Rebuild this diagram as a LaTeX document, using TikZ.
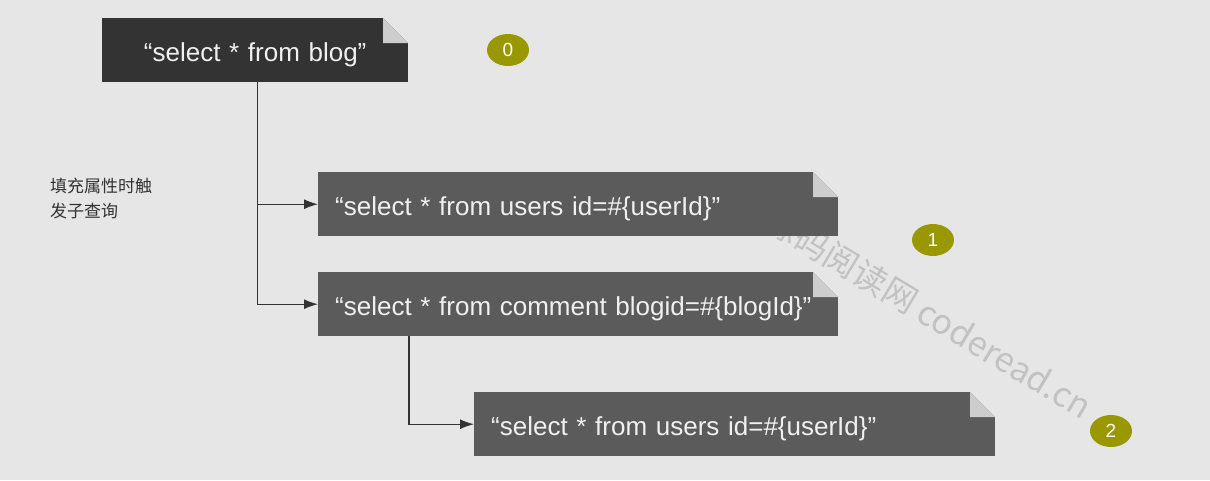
\documentclass[tikz,border=0pt]{standalone}
\usepackage{fontspec}
\setmainfont{Liberation Sans}
\newfontfamily\cjk{Noto Sans CJK SC}
\usetikzlibrary{calc,arrows.meta,shapes.geometric}

\definecolor{bgGray}{HTML}{E6E6E6}
\definecolor{darkBox}{HTML}{333333}
\definecolor{midBox}{HTML}{5B5B5B}
\definecolor{foldGray}{HTML}{CDCDCD}
\definecolor{oliveDot}{HTML}{9A9800}
\definecolor{markGray}{HTML}{C2C2C2}
\definecolor{inkGray}{HTML}{333333}

\tikzset{
  query/.style={fill=midBox, text=white!94!black, minimum height=64pt, inner xsep=17pt, inner ysep=0pt,
    text height=23pt, text depth=0pt,
    anchor=north west, align=left, font=\fontsize{26}{30}\selectfont,
    path picture={
      \fill[bgGray] ($(path picture bounding box.north east)+(-25pt,0pt)$) -- (path picture bounding box.north east) -- ++(0pt,-25pt) -- cycle;
      \fill[foldGray] ($(path picture bounding box.north east)+(-25pt,0pt)$) -- ++(0pt,-25pt) -- ++(25pt,0pt) -- cycle;
    }},
  badge/.style={ellipse, fill=oliveDot, text=white, minimum width=42pt, minimum height=32pt, inner sep=0pt,
    font=\fontsize{19}{22}\selectfont},
  link/.style={draw=inkGray, line width=1.4pt, -{Latex[length=14pt,width=10pt]}},
}

\begin{document}
\begin{tikzpicture}[x=1pt,y=-1pt]

\fill[bgGray] (0,0) rectangle (1210,480);
\useasboundingbox (0,0) rectangle (1210,480);

% watermark
\node[rotate=-31, text=markGray, font=\cjk\fontsize{34}{40}\selectfont] (mark) at (929,313) {源码阅读网 coderead.cn};

\node[query, fill=darkBox, text width=272pt, align=center] (blog) at (102,18) {“select * from blog”};
\node[query, text width=486pt] (users) at (318,172) {“select * from users id=\#\{userId\}”};
\node[query, text width=486pt] (comment) at (318,272) {“select * from comment blogid=\#\{blogId\}”};
\node[query, text width=487pt] (author) at (474,392) {“select * from users id=\#\{userId\}”};

\node[align=left, anchor=north west, text=inkGray, inner sep=0pt,
  font=\cjk\fontsize{17}{25}\selectfont] (hint) at (50,178) {填充属性时触\\发子查询};

\node[badge] (n0) at (508,50) {0};
\node[badge] (n1) at (933,240) {1};
\node[badge] (n2) at (1111,431) {2};

\draw[link] ($(blog.south)+(2pt,0pt)$) |- (users.west);
\draw[link] ($(blog.south)+(2pt,0pt)$) |- (comment.west);
\draw[link] ($(comment.south west)+(91pt,0pt)$) |- (author.west);

\end{tikzpicture}
\end{document}
